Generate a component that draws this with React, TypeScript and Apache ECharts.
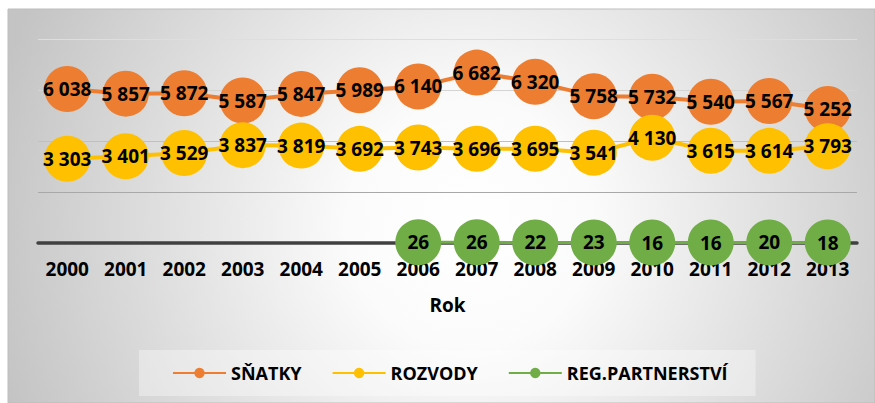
import React, { useEffect, useRef } from "react";
import * as echarts from "echarts";

const years = ["2000", "2001", "2002", "2003", "2004", "2005", "2006", "2007", "2008", "2009", "2010", "2011", "2012", "2013"];
const snatky = [6038, 5857, 5872, 5587, 5847, 5989, 6140, 6682, 6320, 5758, 5732, 5540, 5567, 5252];
const rozvody = [3303, 3401, 3529, 3837, 3819, 3692, 3743, 3696, 3695, 3541, 4130, 3615, 3614, 3793];
const partnerstvi = [null, null, null, null, null, null, 26, 26, 22, 23, 16, 16, 20, 18];
const seriesNames = ["SŇATKY", "ROZVODY", "REG.PARTNERSTVÍ"];
const seriesColors = ["#ED7D31", "#FFC000", "#70AD47"];
const axisName = "Rok";

const FONT = "'Open Sans', 'Noto Sans', sans-serif";

const fmt = (v: number) => String(v).replace(/\B(?=(\d{3})+(?!\d))/g, " ");

export default function App() {
  const ref = useRef<HTMLDivElement>(null);
  useEffect(() => {
    if (!ref.current) return;
    const chart = echarts.init(ref.current, undefined, { renderer: "svg" });
    const mk = (name: string, data: (number | null)[], color: string, lw: number) => ({
      name,
      type: "line",
      data,
      symbol: "circle",
      symbolSize: 46,
      showAllSymbol: true,
      connectNulls: false,
      lineStyle: { color, width: lw },
      itemStyle: { color },
      label: {
        show: true,
        position: "inside",
        color: "#000",
        fontFamily: FONT,
        fontWeight: "bold",
        fontSize: 19,
        formatter: (p: any) => fmt(p.value),
      },
      emphasis: { disabled: true },
    });
    chart.setOption({
      animation: false,
      backgroundColor: "#ffffff",
      textStyle: { fontFamily: FONT },
      graphic: [
        {
          type: "rect",
          z: -10,
          silent: true,
          shape: { x: 8, y: 9, width: 867, height: 394 },
          style: {
            fill: new echarts.graphic.RadialGradient(470, 225, 490, [
              { offset: 0, color: "#ffffff" },
              { offset: 0.25, color: "#fbfbfb" },
              { offset: 1, color: "#c4c4c4" },
            ], true),
            stroke: "#bdbdbd",
            lineWidth: 1,
          },
        },
      ],
      grid: { left: 38, right: 18, top: 39, bottom: 160 },
      legend: {
        data: seriesNames,
        top: 350,
        left: 139,
        backgroundColor: "rgba(255,255,255,0.35)",
        padding: [14, 28, 14, 33],
        itemWidth: 53,
        itemHeight: 13,
        itemGap: 30,
        textStyle: { color: "#000", fontFamily: FONT, fontWeight: "bold", fontSize: 18 },
      },
      xAxis: {
        type: "category",
        data: years,
        boundaryGap: true,
        axisLine: { lineStyle: { color: "#404040", width: 3.5 } },
        axisTick: { show: false },
        axisLabel: { color: "#000", fontFamily: FONT, fontWeight: "bold", fontSize: 19, margin: 16 },
        name: axisName,
        nameLocation: "middle",
        nameGap: 52,
        nameTextStyle: { color: "#000", fontFamily: FONT, fontWeight: "bold", fontSize: 19 },
      },
      yAxis: {
        type: "value",
        min: 0,
        max: 8000,
        interval: 2000,
        axisLabel: { show: false },
        axisLine: { show: false },
        axisTick: { show: false },
        splitLine: {
          lineStyle: { color: ["#a0a0a0", "#a8a8a8", "#c0c0c0", "#d4d4d4", "#dedede"], width: 1 },
        },
      },
      series: [
        mk(seriesNames[0], snatky, seriesColors[0], 4),
        mk(seriesNames[1], rozvody, seriesColors[1], 4),
        mk(seriesNames[2], partnerstvi, seriesColors[2], 3),
      ],
    });
    return () => chart.dispose();
  }, []);
  return (
    <div
      ref={ref}
      style={{ position: "fixed", left: 0, top: 0, width: 875, height: 403 }}
    />
  );
}
